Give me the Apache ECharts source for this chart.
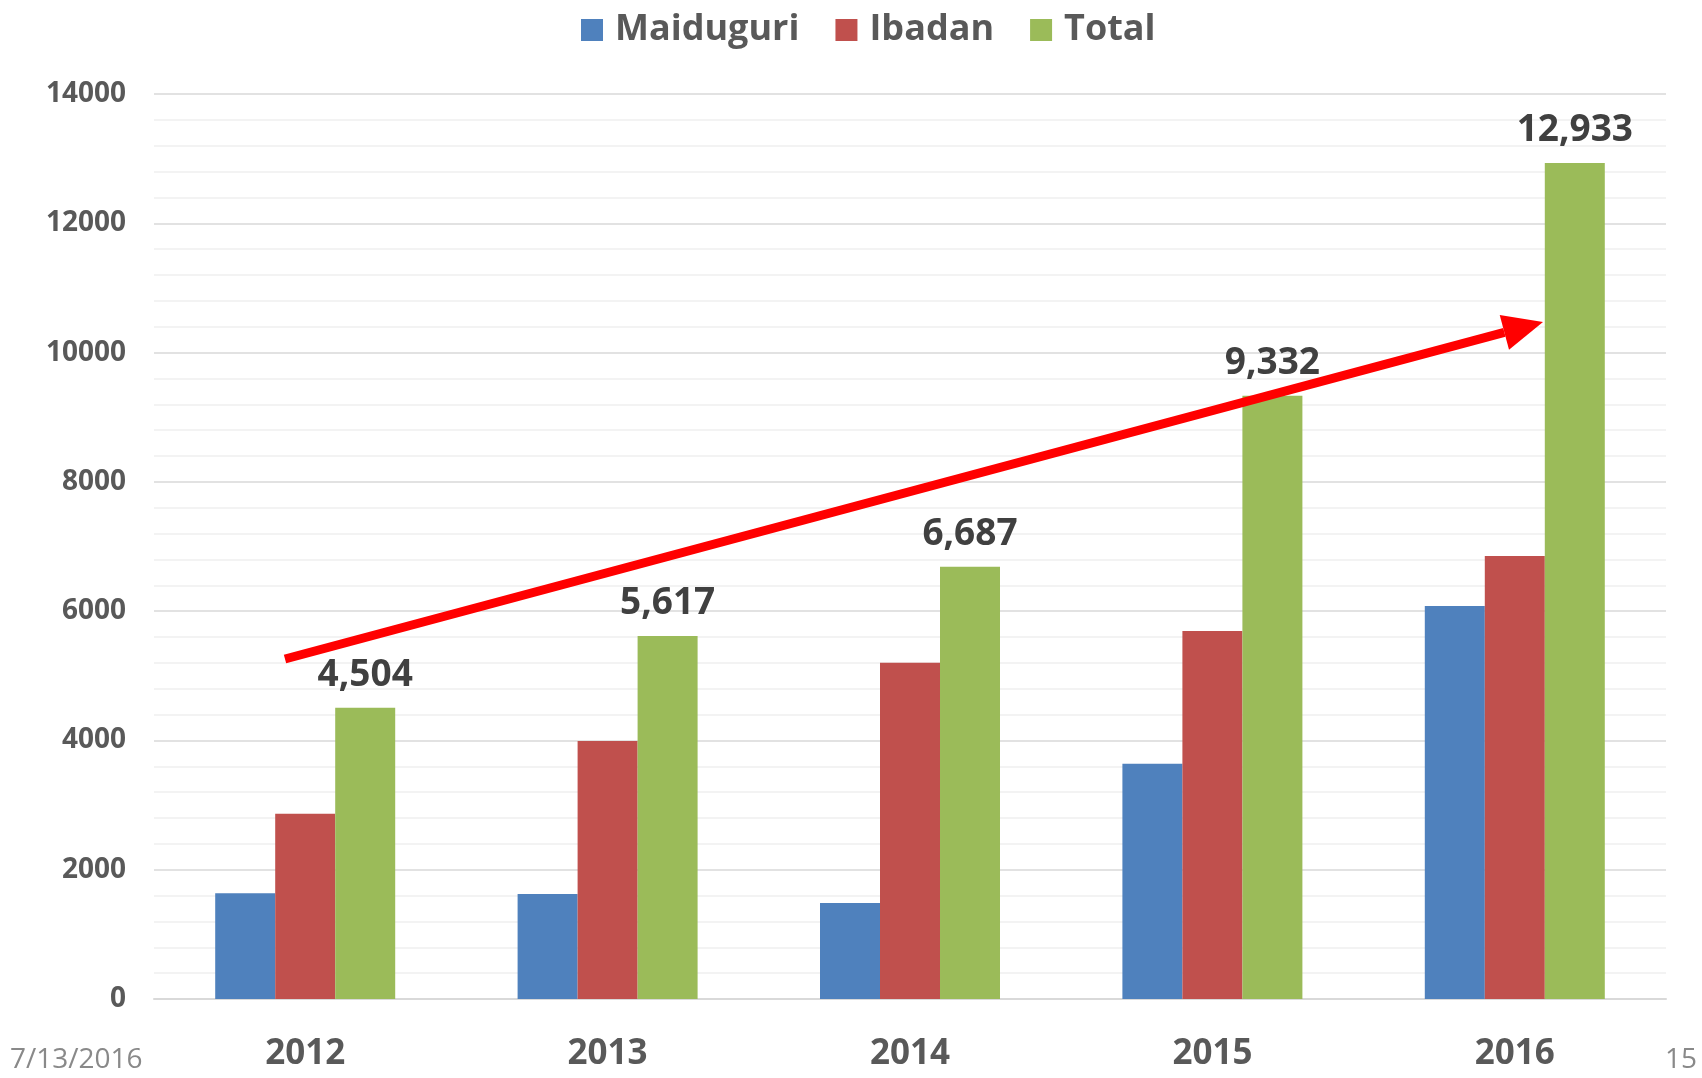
<!DOCTYPE html>
<html>
<head>
<meta charset="utf-8">
<script src="https://cdn.jsdelivr.net/npm/echarts@6/dist/echarts.min.js"></script>
<style>
  html, body { margin: 0; padding: 0; background: #fff; }
  #chart { width: 1702px; height: 1078px; }
</style>
</head>
<body>
<div id="chart"></div>
<script>
var years = ["2012", "2013", "2014", "2015", "2016"];
var maiduguri = [1637, 1625, 1485, 3640, 6080];
var ibadan = [2867, 3992, 5202, 5692, 6853];
var total = [4504, 5617, 6687, 9332, 12933];
var yTicks = { min: 0, max: 14000, step: 2000 };

var FONT = "Open Sans";

function fmt(n) {
  return n.toString().replace(/\B(?=(\d{3})+(?!\d))/g, ",");
}

var myChart = echarts.init(document.getElementById("chart"));

// arrow is a drawn annotation, not data
var p0 = [285, 659], tip = [1543, 322];
var dx = tip[0] - p0[0], dy = tip[1] - p0[1];
var len = Math.sqrt(dx * dx + dy * dy);
var ux = dx / len, uy = dy / len;
var hl = 40, hw = 18;
var base = [tip[0] - ux * hl, tip[1] - uy * hl];

var option = {
  animation: false,
  color: ["#4F81BD", "#C0504D", "#9BBB59"],
  textStyle: { fontFamily: FONT },
  legend: {
    left: 576,
    top: 7,
    icon: "rect",
    itemWidth: 22,
    itemHeight: 22,
    itemGap: 36,
    textStyle: {
      fontSize: 36,
      fontWeight: "bold",
      color: "#595959",
      fontFamily: FONT,
      padding: [0, 0, 0, 7]
    }
  },
  grid: { left: 154, right: 36, top: 94, bottom: 79 },
  xAxis: {
    type: "category",
    data: years,
    axisTick: { show: false },
    axisLine: { lineStyle: { color: "#D9D9D9", width: 2 } },
    axisLabel: {
      color: "#595959",
      fontSize: 35,
      fontWeight: "bold",
      fontFamily: FONT,
      margin: 38
    }
  },
  yAxis: {
    type: "value",
    min: yTicks.min,
    max: yTicks.max,
    interval: yTicks.step,
    axisLine: { show: false },
    axisTick: { show: false },
    axisLabel: {
      color: "#595959",
      fontSize: 28,
      fontWeight: "bold",
      fontFamily: FONT,
      margin: 28,
      formatter: function (v) { return String(v); }
    },
    splitLine: { lineStyle: { color: "#D9D9D9", width: 1.5 } },
    minorTick: { show: false, splitNumber: 5 },
    minorSplitLine: { show: true, lineStyle: { color: "#F0F0F0", width: 1.5 } }
  },
  series: [
    {
      name: "Maiduguri",
      type: "bar",
      data: maiduguri,
      barWidth: 60,
      barGap: "0%"
    },
    {
      name: "Ibadan",
      type: "bar",
      data: ibadan,
      barWidth: 60,
      barGap: "0%"
    },
    {
      name: "Total",
      type: "bar",
      data: total,
      barWidth: 60,
      barGap: "0%",
      label: {
        show: true,
        position: "top",
        distance: 14,
        color: "#404040",
        fontSize: 37,
        fontWeight: "bold",
        fontFamily: FONT,
        formatter: function (p) { return fmt(p.value); }
      }
    }
  ],
  graphic: [
    {
      type: "line",
      z: 100,
      shape: { x1: p0[0], y1: p0[1], x2: base[0], y2: base[1] },
      style: { stroke: "#FF0000", lineWidth: 9 }
    },
    {
      type: "polygon",
      z: 100,
      shape: {
        points: [
          tip,
          [base[0] - uy * hw, base[1] + ux * hw],
          [base[0] + uy * hw, base[1] - ux * hw]
        ]
      },
      style: { fill: "#FF0000" }
    },
    {
      type: "text",
      left: 10,
      top: 1046,
      style: { text: "7/13/2016", fontSize: 28, fill: "#898989", fontFamily: FONT }
    },
    {
      type: "text",
      right: 5,
      top: 1046,
      style: { text: "15", fontSize: 28, fill: "#898989", fontFamily: FONT }
    }
  ]
};

myChart.setOption(option);
</script>
</body>
</html>
